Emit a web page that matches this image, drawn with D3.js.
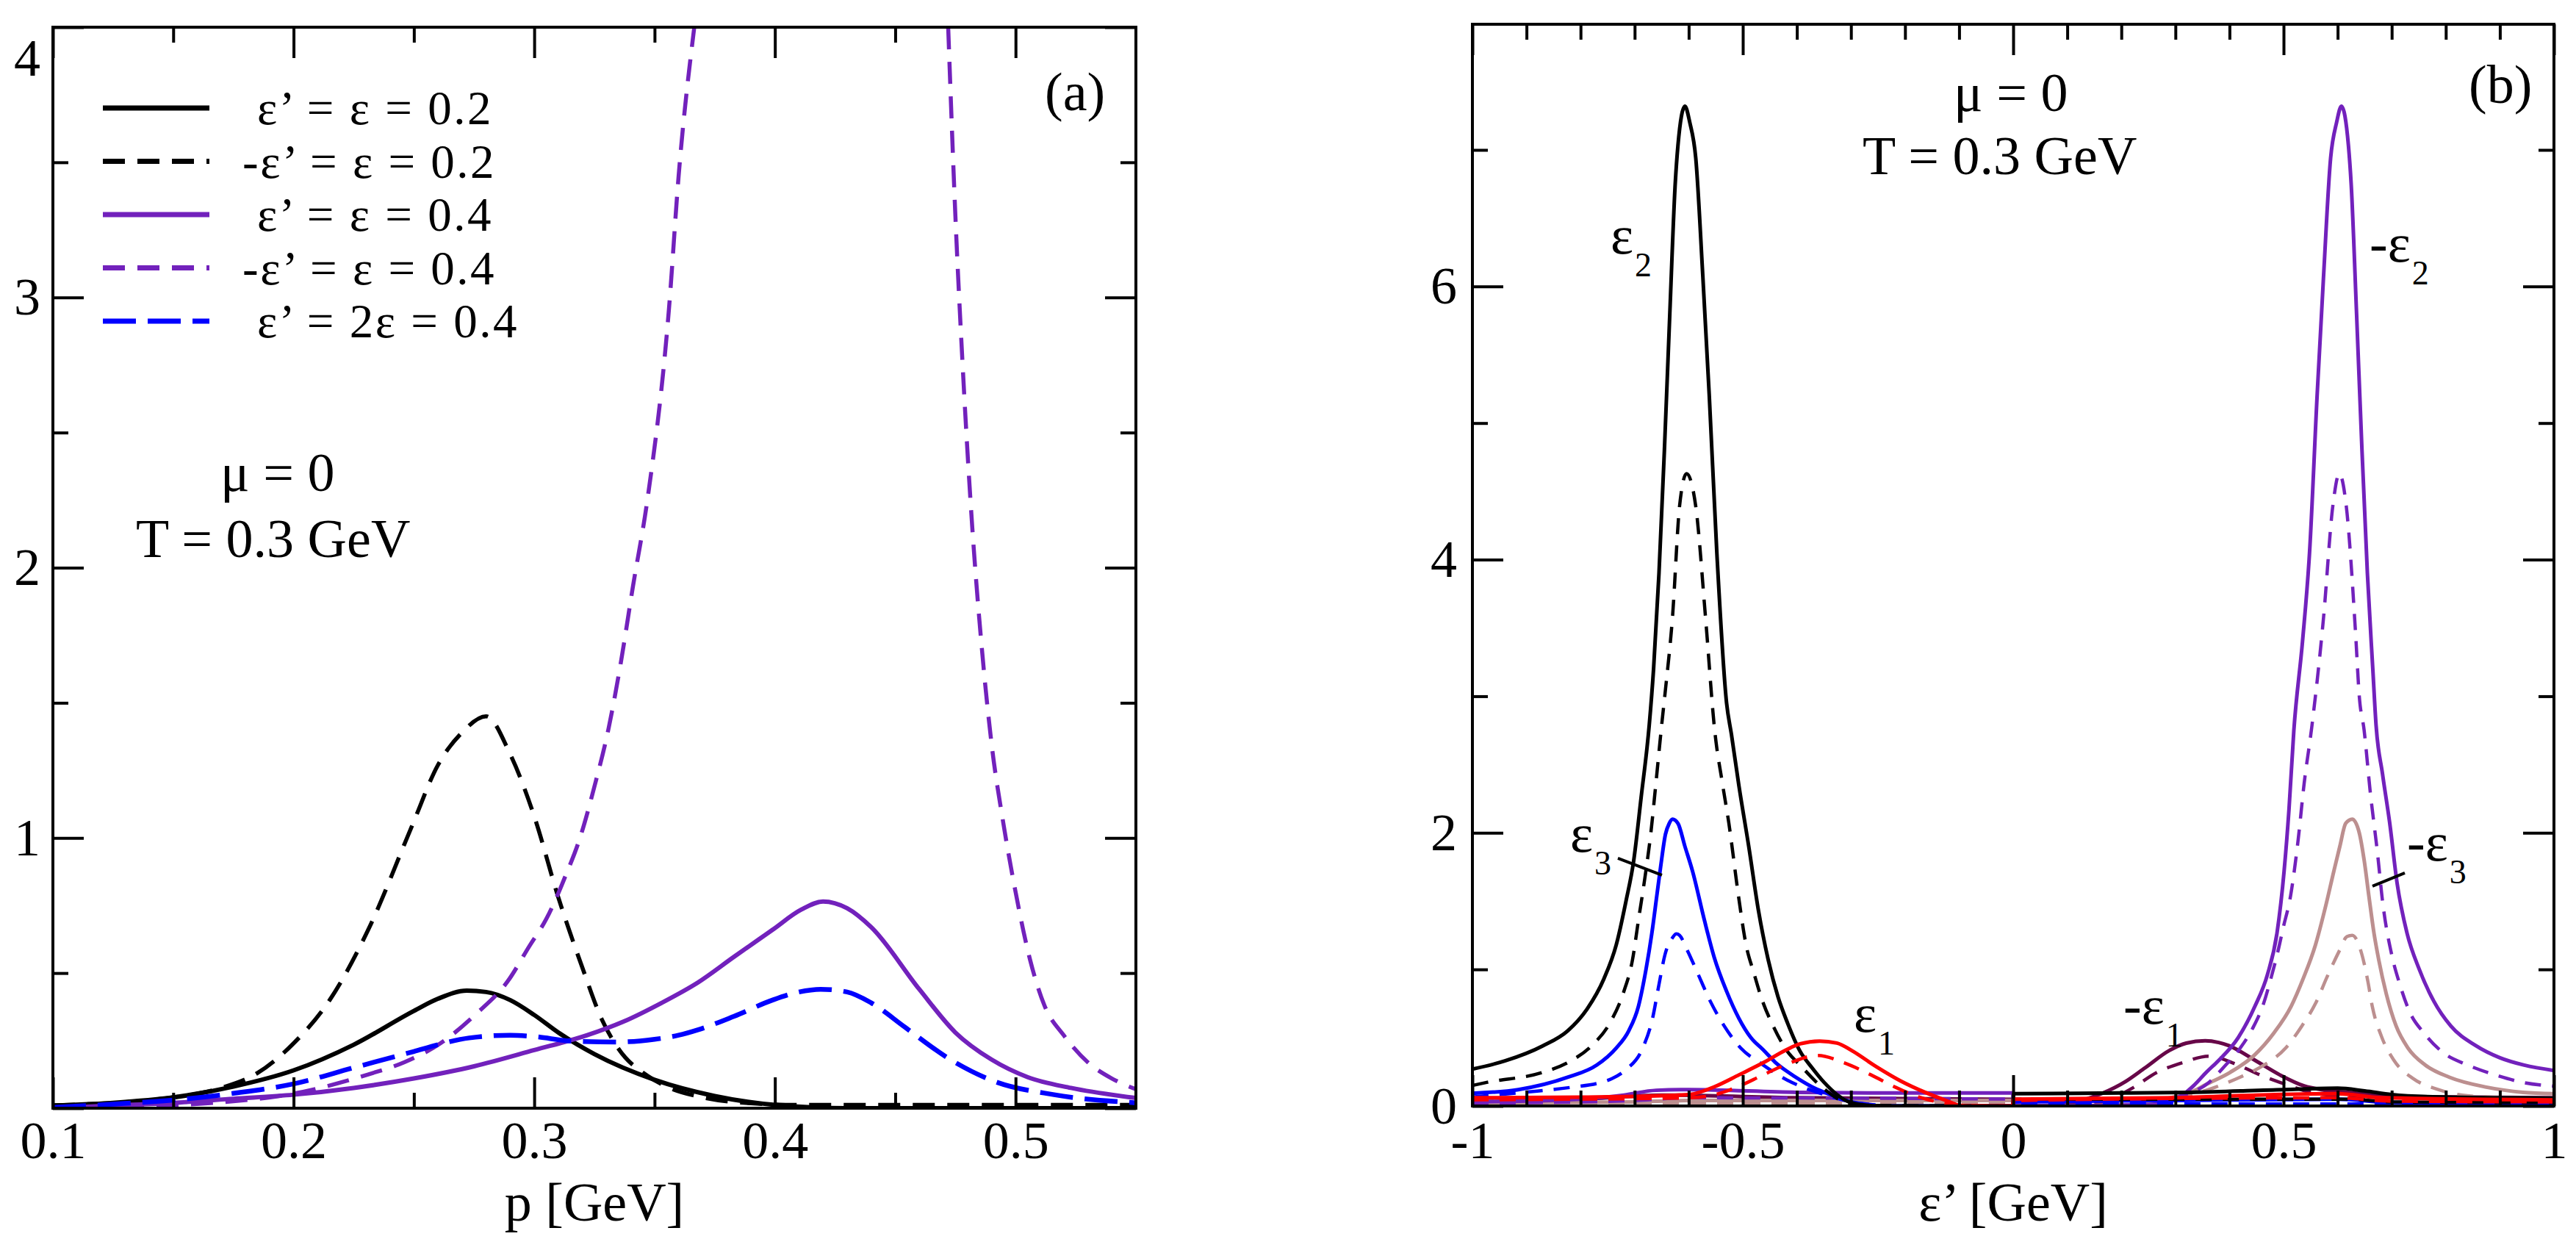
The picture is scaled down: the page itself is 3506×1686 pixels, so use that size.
<!DOCTYPE html>
<html><head><meta charset="utf-8">
<script src="https://cdn.jsdelivr.net/npm/d3@7"></script>
<style>
body{margin:0;background:#fff}
svg text{font-family:"Liberation Serif","Times New Roman",Times,serif;fill:#000}
</style>
</head><body>
<svg id="c" width="3506" height="1686" xmlns="http://www.w3.org/2000/svg"></svg>
<script>
// ---------------- DATA: panel (a) ----------------
const xTicksA = [0.1, 0.2, 0.3, 0.4, 0.5];
const xTickLabelsA = ["0.1", "0.2", "0.3", "0.4", "0.5"];
const xMinorA = [0.15, 0.25, 0.35, 0.45];
const yTicksA = [0, 1, 2, 3, 4];
const yTickLabelsA = ["", "1", "2", "3", "4"];
const yMinorA = [0.5, 1.5, 2.5, 3.5];
const legendLabelsA = ["ε’ = ε = 0.2", "-ε’ = ε = 0.2", "ε’ = ε = 0.4", "-ε’ = ε = 0.4", "ε’ = 2ε = 0.4"];

const blackSolidA = [[0.10,0.01],[0.125,0.02],[0.15,0.04],[0.175,0.08],[0.20,0.14],[0.225,0.235],[0.25,0.36],[0.26,0.405],[0.272,0.435],[0.28,0.43],[0.29,0.40],[0.30,0.345],[0.31,0.28],[0.325,0.20],[0.35,0.105],[0.375,0.045],[0.40,0.012],[0.43,0.0],[0.55,0.0]];
const blackDashedA = [[0.10,0.01],[0.15,0.04],[0.17,0.075],[0.185,0.13],[0.20,0.24],[0.215,0.40],[0.231,0.66],[0.249,1.04],[0.26,1.27],[0.27,1.39],[0.28,1.45],[0.29,1.31],[0.30,1.08],[0.31,0.78],[0.32,0.52],[0.328,0.33],[0.335,0.22],[0.347,0.12],[0.355,0.08],[0.37,0.04],[0.39,0.018],[0.41,0.012],[0.55,0.012]];
const indigoSolidA = [[0.10,0.0],[0.125,0.01],[0.15,0.02],[0.175,0.035],[0.20,0.05],[0.225,0.075],[0.25,0.11],[0.275,0.155],[0.30,0.215],[0.322,0.27],[0.337,0.32],[0.353,0.39],[0.368,0.465],[0.383,0.56],[0.399,0.66],[0.411,0.735],[0.42,0.765],[0.43,0.74],[0.44,0.67],[0.46,0.44],[0.475,0.28],[0.49,0.18],[0.505,0.115],[0.523,0.075],[0.55,0.038]];
const indigoDashedA = [[0.10,0.0],[0.139,0.008],[0.17,0.022],[0.20,0.054],[0.231,0.125],[0.246,0.17],[0.261,0.24],[0.276,0.35],[0.289,0.47],[0.298,0.60],[0.305,0.70],[0.313,0.86],[0.319,1.0],[0.325,1.19],[0.331,1.41],[0.336,1.65],[0.341,1.93],[0.347,2.25],[0.356,2.96],[0.360,3.45],[0.3665,4.0],[0.42,null],[0.472,4.0],[0.475,3.3],[0.478,2.75],[0.482,2.15],[0.486,1.7],[0.490,1.35],[0.495,1.05],[0.50,0.80],[0.506,0.55],[0.512,0.38],[0.52,0.27],[0.53,0.17],[0.54,0.11],[0.55,0.07]];
const blueDashedA = [[0.10,0.003],[0.125,0.015],[0.15,0.03],[0.175,0.055],[0.20,0.09],[0.225,0.15],[0.25,0.21],[0.26,0.235],[0.273,0.26],[0.29,0.27],[0.30,0.265],[0.316,0.248],[0.335,0.245],[0.35,0.255],[0.36,0.27],[0.368,0.29],[0.383,0.34],[0.399,0.40],[0.41,0.43],[0.419,0.44],[0.43,0.43],[0.44,0.39],[0.454,0.30],[0.472,0.185],[0.491,0.10],[0.516,0.05],[0.55,0.02]];

// ---------------- DATA: panel (b) ----------------
const xTicksB = [-1, -0.5, 0, 0.5, 1];
const xTickLabelsB = ["-1", "-0.5", "0", "0.5", "1"];
const xMinorB = [-0.9,-0.8,-0.7,-0.6,-0.4,-0.3,-0.2,-0.1,0.1,0.2,0.3,0.4,0.6,0.7,0.8,0.9];
const yTicksB = [0, 2, 4, 6];
const yTickLabelsB = ["0", "2", "4", "6"];
const yMinorB = [1, 3, 5, 7];

const eps2Solid = [[-1.0,0.27],[-0.94,0.33],[-0.87,0.44],[-0.824,0.55],[-0.788,0.71],[-0.757,0.93],[-0.734,1.18],[-0.716,1.50],[-0.702,1.79],[-0.688,2.26],[-0.673,2.79],[-0.665,3.2],[-0.655,3.9],[-0.645,4.8],[-0.635,5.8],[-0.625,6.75],[-0.620,7.03],[-0.607,7.32],[-0.598,7.2],[-0.587,6.94],[-0.574,6.08],[-0.562,5.2],[-0.548,4.05],[-0.530,2.95],[-0.521,2.72],[-0.507,2.34],[-0.489,1.90],[-0.471,1.43],[-0.453,1.07],[-0.435,0.80],[-0.417,0.605],[-0.394,0.40],[-0.372,0.28],[-0.349,0.17],[-0.326,0.084],[-0.304,0.03],[-0.27,0.005],[-0.25,0],[-0.001,0],[0.001,0.09],[0.2,0.095],[0.33,0.10],[0.5,0.12],[0.6,0.13],[0.65,0.11],[0.70,0.084],[0.79,0.066],[1.0,0.057]];
const eps2Dashed = [[-1.0,0.15],[-0.972,0.174],[-0.87,0.246],[-0.82,0.326],[-0.779,0.443],[-0.745,0.613],[-0.72,0.838],[-0.704,1.07],[-0.693,1.36],[-0.682,1.645],[-0.670,2.0],[-0.661,2.35],[-0.650,2.79],[-0.643,3.05],[-0.630,3.58],[-0.617,4.39],[-0.604,4.63],[-0.587,4.39],[-0.569,3.58],[-0.552,2.75],[-0.537,2.345],[-0.526,2.076],[-0.508,1.538],[-0.494,1.18],[-0.480,0.98],[-0.465,0.784],[-0.444,0.587],[-0.422,0.425],[-0.390,0.282],[-0.354,0.139],[-0.313,0.031],[-0.28,0.005],[-0.001,0],[0.001,0.05],[0.62,0.05],[0.70,0.03],[1.0,0.025]];
const eps3Solid = [[-1.0,0.093],[-0.915,0.12],[-0.824,0.21],[-0.77,0.30],[-0.734,0.425],[-0.711,0.55],[-0.693,0.73],[-0.679,1.0],[-0.668,1.27],[-0.659,1.54],[-0.652,1.75],[-0.643,1.99],[-0.636,2.07],[-0.630,2.10],[-0.620,2.07],[-0.607,1.90],[-0.593,1.72],[-0.571,1.36],[-0.553,1.09],[-0.530,0.84],[-0.507,0.64],[-0.485,0.50],[-0.462,0.41],[-0.440,0.32],[-0.417,0.25],[-0.394,0.19],[-0.372,0.14],[-0.349,0.10],[-0.326,0.066],[-0.304,0.035],[-0.27,0.01],[-0.24,0],[-0.001,0],[0.001,0.03],[0.3,0.04],[0.6,0.05],[0.7,0.025],[1.0,0.02]];
const eps3Dashed = [[-1.0,0.066],[-0.899,0.102],[-0.815,0.138],[-0.765,0.17],[-0.742,0.20],[-0.717,0.263],[-0.685,0.425],[-0.667,0.64],[-0.655,0.89],[-0.644,1.107],[-0.630,1.232],[-0.623,1.26],[-0.617,1.25],[-0.603,1.143],[-0.581,0.95],[-0.560,0.766],[-0.535,0.59],[-0.504,0.425],[-0.466,0.31],[-0.418,0.19],[-0.377,0.12],[-0.350,0.084],[-0.31,0.04],[-0.26,0.01],[-0.22,0],[-0.001,0],[0.001,0.015],[1.0,0.015]];
const eps1Solid = [[-1.0,0.06],[-0.8,0.065],[-0.65,0.075],[-0.597,0.085],[-0.553,0.14],[-0.507,0.228],[-0.462,0.317],[-0.42,0.41],[-0.394,0.455],[-0.358,0.475],[-0.326,0.461],[-0.299,0.407],[-0.254,0.29],[-0.208,0.183],[-0.163,0.10],[-0.118,0.031],[-0.10,0.005],[-0.08,0],[-0.001,0],[0.001,0.05],[0.3,0.06],[0.45,0.08],[0.6,0.09],[0.68,0.06],[1.0,0.045]];
const eps1Dashed = [[-1.0,0.045],[-0.8,0.05],[-0.6,0.06],[-0.56,0.075],[-0.511,0.138],[-0.462,0.228],[-0.412,0.317],[-0.362,0.37],[-0.313,0.317],[-0.263,0.228],[-0.218,0.138],[-0.181,0.075],[-0.14,0.03],[-0.10,0.005],[-0.001,0],[0.001,0.04],[0.6,0.06],[0.7,0.035],[1.0,0.03]];
const mEps2Solid = [[-1.0,0.03],[-0.8,0.05],[-0.72,0.08],[-0.66,0.115],[-0.6,0.12],[-0.4,0.10],[-0.2,0.095],[-0.001,0.095],[0.001,0],[0.25,0.005],[0.28,0.03],[0.313,0.08],[0.334,0.15],[0.358,0.25],[0.379,0.33],[0.416,0.50],[0.447,0.73],[0.470,0.96],[0.488,1.27],[0.501,1.72],[0.510,2.17],[0.519,2.75],[0.535,3.4],[0.548,4.05],[0.562,5.2],[0.574,6.08],[0.587,6.94],[0.598,7.2],[0.607,7.32],[0.620,7.03],[0.625,6.75],[0.635,5.8],[0.645,4.8],[0.655,3.9],[0.665,3.2],[0.671,2.79],[0.683,2.43],[0.696,2.08],[0.710,1.63],[0.728,1.27],[0.751,1.0],[0.778,0.766],[0.809,0.587],[0.855,0.443],[0.900,0.353],[0.945,0.299],[1.0,0.26]];
const mEps2Dashed = [[-1.0,0.02],[-0.7,0.04],[-0.6,0.06],[-0.001,0.05],[0.001,0],[0.25,0.01],[0.30,0.06],[0.361,0.17],[0.393,0.30],[0.420,0.425],[0.443,0.57],[0.463,0.75],[0.477,0.94],[0.490,1.14],[0.499,1.30],[0.513,1.54],[0.527,1.95],[0.538,2.36],[0.552,2.77],[0.574,3.58],[0.591,4.39],[0.603,4.63],[0.616,4.39],[0.633,3.47],[0.640,3.0],[0.649,2.75],[0.660,2.31],[0.674,1.84],[0.683,1.50],[0.701,1.09],[0.715,0.89],[0.733,0.69],[0.760,0.532],[0.796,0.388],[0.841,0.299],[0.891,0.228],[0.941,0.174],[1.0,0.145]];
const mEps3Solid = [[-1.0,0.02],[-0.7,0.03],[-0.6,0.04],[-0.001,0.04],[0.001,0],[0.22,0.01],[0.28,0.05],[0.334,0.11],[0.356,0.156],[0.401,0.246],[0.446,0.372],[0.482,0.534],[0.514,0.73],[0.536,0.93],[0.559,1.18],[0.577,1.45],[0.593,1.72],[0.604,1.90],[0.615,2.07],[0.627,2.10],[0.640,2.0],[0.649,1.80],[0.658,1.53],[0.667,1.27],[0.676,1.07],[0.690,0.82],[0.708,0.587],[0.730,0.425],[0.762,0.30],[0.807,0.21],[0.875,0.138],[0.943,0.10],[1.0,0.09]];
const mEps3Dashed = [[-1.0,0.01],[-0.6,0.02],[-0.001,0.02],[0.001,0],[0.25,0.01],[0.30,0.05],[0.374,0.138],[0.419,0.21],[0.464,0.30],[0.504,0.425],[0.534,0.587],[0.559,0.75],[0.581,0.95],[0.604,1.143],[0.617,1.24],[0.627,1.25],[0.645,1.107],[0.656,0.91],[0.664,0.73],[0.681,0.51],[0.704,0.335],[0.740,0.20],[0.786,0.12],[0.840,0.075],[1.0,0.05]];
const mEps1Solid = [[-1.0,0.03],[-0.8,0.05],[-0.65,0.08],[-0.4,0.06],[-0.001,0.048],[0.001,0],[0.10,0.01],[0.118,0.03],[0.163,0.09],[0.208,0.18],[0.244,0.28],[0.289,0.407],[0.320,0.46],[0.355,0.478],[0.380,0.465],[0.398,0.443],[0.447,0.335],[0.493,0.228],[0.538,0.147],[0.569,0.12],[0.62,0.10],[0.70,0.07],[1.0,0.06]];
const mEps1Dashed = [[-1.0,0.02],[-0.65,0.05],[-0.001,0.03],[0.001,0],[0.12,0.005],[0.18,0.05],[0.22,0.13],[0.266,0.246],[0.313,0.317],[0.362,0.365],[0.411,0.308],[0.456,0.228],[0.506,0.156],[0.55,0.10],[0.62,0.07],[1.0,0.04]];

// ---------------- LAYOUT / STYLE ----------------
const FONT_TICK = 72, FONT_TXT = 74, FONT_LEG = 65, FONT_SUB = 46;
const TICK_BASE = 1576, TITLE_BASE = 1661;
const svg = d3.select("#c");

const xA = d3.scaleLinear().domain([0.1, 0.55]).range([72, 1546]);
const yA = d3.scaleLinear().domain([0, 4]).range([1508, 37]);
const xB = d3.scaleLinear().domain([-1, 1]).range([2004, 3476]);
const yB = d3.scaleLinear().domain([0, 7.92]).range([1505, 33]);

function styleAxis(g) {
  g.select(".domain").remove();
  g.attr("font-size", FONT_TICK).attr("font-family", '"Liberation Serif","Times New Roman",serif');
  g.selectAll("line").attr("stroke", "#000").attr("stroke-width", 4);
  g.selectAll("text").attr("fill", "#000");
}

function drawAxes(x, y, s) {
  const [x0, x1] = x.range(), [y0, y1] = y.range();
  const g = svg.append("g");
  const lab = (arr) => (d, i) => arr[i];
  const pb = TICK_BASE - y0 - 0.71 * FONT_TICK;
  g.append("g").attr("transform", `translate(0,${y0})`)
    .call(d3.axisBottom(x).tickValues(s.xMajor).tickSize(-42).tickPadding(pb).tickFormat(lab(s.xLabels))).call(styleAxis);
  g.append("g").attr("transform", `translate(0,${y0})`)
    .call(d3.axisBottom(x).tickValues(s.xMinor).tickSize(-21).tickFormat("")).call(styleAxis);
  g.append("g").attr("transform", `translate(0,${y1})`)
    .call(d3.axisTop(x).tickValues(s.xMajor).tickSize(-42).tickFormat("")).call(styleAxis);
  g.append("g").attr("transform", `translate(0,${y1})`)
    .call(d3.axisTop(x).tickValues(s.xMinor).tickSize(-21).tickFormat("")).call(styleAxis);
  const left = g.append("g").attr("transform", `translate(${x0},0)`)
    .call(d3.axisLeft(y).tickValues(s.yMajor).tickSize(-42).tickPadding(s.yPad).tickFormat(lab(s.yLabels))).call(styleAxis);
  // keep the top-most label fully inside the picture
  left.selectAll("text").each(function(d) {
    const base = y(d) + 0.32 * FONT_TICK;
    const minBase = 0.9 * FONT_TICK + 1;
    if (base < minBase) d3.select(this).attr("dy", null).attr("y", minBase);
  });
  g.append("g").attr("transform", `translate(${x0},0)`)
    .call(d3.axisLeft(y).tickValues(s.yMinor).tickSize(-21).tickFormat("")).call(styleAxis);
  g.append("g").attr("transform", `translate(${x1},0)`)
    .call(d3.axisRight(y).tickValues(s.yMajor).tickSize(-42).tickFormat("")).call(styleAxis);
  g.append("g").attr("transform", `translate(${x1},0)`)
    .call(d3.axisRight(y).tickValues(s.yMinor).tickSize(-21).tickFormat("")).call(styleAxis);
  g.append("rect").attr("x", x0).attr("y", y1).attr("width", x1 - x0).attr("height", y0 - y1)
    .attr("fill", "none").attr("stroke", "#000").attr("stroke-width", 4);
}

function drawSeries(x, y, list, clipId) {
  const [x0, x1] = x.range(), [y0, y1] = y.range();
  svg.append("clipPath").attr("id", clipId).append("rect")
    .attr("x", x0).attr("y", y1).attr("width", x1 - x0).attr("height", y0 - y1);
  const line = d3.line().defined(d => d[1] !== null).x(d => x(d[0])).y(d => y(d[1])).curve(d3.curveMonotoneX);
  const g = svg.append("g").attr("clip-path", `url(#${clipId})`);
  list.forEach(s => {
    g.append("path").attr("d", line(s.data)).attr("fill", "none")
      .attr("stroke", s.color).attr("stroke-width", s.w)
      .attr("stroke-dasharray", s.dash || null)
      .attr("stroke-linejoin", "round");
  });
}

const C = {black: "#000000", indigo: "#7221bc", blue: "#0000ff", red: "#ff0000", brown: "#bc8f8f", maroon: "#670748"};

// ---------- Panel (a) ----------
const seriesA = [
  {data: blackSolidA, color: C.black, w: 6, dash: null},
  {data: blackDashedA, color: C.black, w: 5.5, dash: "30,17"},
  {data: indigoSolidA, color: C.indigo, w: 6, dash: null},
  {data: indigoDashedA, color: C.indigo, w: 5.5, dash: "30,17"},
  {data: blueDashedA, color: C.blue, w: 6.5, dash: "45,16"}
];
drawSeries(xA, yA, seriesA, "clipA");
drawAxes(xA, yA, {xMajor: xTicksA, xLabels: xTickLabelsA, xMinor: xMinorA,
  yMajor: yTicksA, yLabels: yTickLabelsA, yMinor: yMinorA, yPad: 17});

// legend
const legG = svg.append("g");
seriesA.forEach((s, i) => {
  const ly = 147 + i * 72.5;
  legG.append("line").attr("x1", 140).attr("x2", 285).attr("y1", ly).attr("y2", ly)
    .attr("stroke", s.color).attr("stroke-width", 7).attr("stroke-dasharray", s.dash);
  const t = legendLabelsA[i];
  legG.append("text").attr("x", t.startsWith("-") ? 330 : 350).attr("y", ly + 22)
    .attr("font-size", FONT_LEG).attr("letter-spacing", 2.5).text(t);
});
svg.append("text").attr("x", 1422).attr("y", 150).attr("font-size", FONT_TXT).text("(a)");
svg.append("text").attr("x", 300).attr("y", 668).attr("font-size", FONT_TXT).text("μ = 0");
svg.append("text").attr("x", 185).attr("y", 758).attr("font-size", FONT_TXT).text("T = 0.3 GeV");
svg.append("text").attr("x", (xA.range()[0] + xA.range()[1]) / 2).attr("y", TITLE_BASE)
  .attr("text-anchor", "middle").attr("font-size", FONT_TXT).text("p [GeV]");

// ---------- Panel (b) ----------
const seriesB = [
  {data: mEps1Dashed, color: C.maroon, w: 4.5, dash: "22,15"},
  {data: mEps1Solid, color: C.maroon, w: 5, dash: null},
  {data: mEps3Dashed, color: C.brown, w: 4.5, dash: "22,15"},
  {data: mEps3Solid, color: C.brown, w: 5, dash: null},
  {data: mEps2Dashed, color: C.indigo, w: 4.5, dash: "22,15"},
  {data: mEps2Solid, color: C.indigo, w: 5, dash: null},
  {data: eps3Dashed, color: C.blue, w: 4.5, dash: "22,15"},
  {data: eps3Solid, color: C.blue, w: 5, dash: null},
  {data: eps2Dashed, color: C.black, w: 4.5, dash: "22,15"},
  {data: eps2Solid, color: C.black, w: 5, dash: null},
  {data: eps1Dashed, color: C.red, w: 4.5, dash: "22,15"},
  {data: eps1Solid, color: C.red, w: 5, dash: null}
];
drawSeries(xB, yB, seriesB, "clipB");
drawAxes(xB, yB, {xMajor: xTicksB, xLabels: xTickLabelsB, xMinor: xMinorB,
  yMajor: yTicksB, yLabels: yTickLabelsB, yMinor: yMinorB, yPad: 21});

svg.append("text").attr("x", 3360).attr("y", 140).attr("font-size", FONT_TXT).text("(b)");
svg.append("text").attr("x", 2659).attr("y", 151).attr("font-size", FONT_TXT).text("μ = 0");
svg.append("text").attr("x", 2535).attr("y", 237).attr("font-size", FONT_TXT).text("T = 0.3 GeV");
svg.append("text").attr("x", (xB.range()[0] + xB.range()[1]) / 2).attr("y", TITLE_BASE)
  .attr("text-anchor", "middle").attr("font-size", FONT_TXT).text("ε’ [GeV]");

// curve labels (positions in data coordinates of panel b)
const annotB = [
  {main: "ε", sub: "2", x: -0.7446, y: 6.243},
  {main: "ε", sub: "3", x: -0.8193, y: 1.862},
  {main: "ε", sub: "1", x: -0.2948, y: 0.5436},
  {main: "-ε", sub: "2", x: 0.659, y: 6.184},
  {main: "-ε", sub: "3", x: 0.7283, y: 1.798},
  {main: "-ε", sub: "1", x: 0.2038, y: 0.603}
];
annotB.forEach(a => {
  const t = svg.append("text").attr("x", xB(a.x)).attr("y", yB(a.y)).attr("font-size", FONT_TXT);
  t.append("tspan").text(a.main);
  t.append("tspan").attr("dx", 2).attr("dy", 31).attr("font-size", FONT_SUB).text(a.sub);
});
const leaders = [
  [[-0.731, 1.814], [-0.6495, 1.69]],
  [[0.6644, 1.609], [0.7242, 1.706]]
];
leaders.forEach(l => {
  svg.append("line").attr("x1", xB(l[0][0])).attr("y1", yB(l[0][1]))
    .attr("x2", xB(l[1][0])).attr("y2", yB(l[1][1]))
    .attr("stroke", "#000").attr("stroke-width", 4);
});
</script>
</body></html>
